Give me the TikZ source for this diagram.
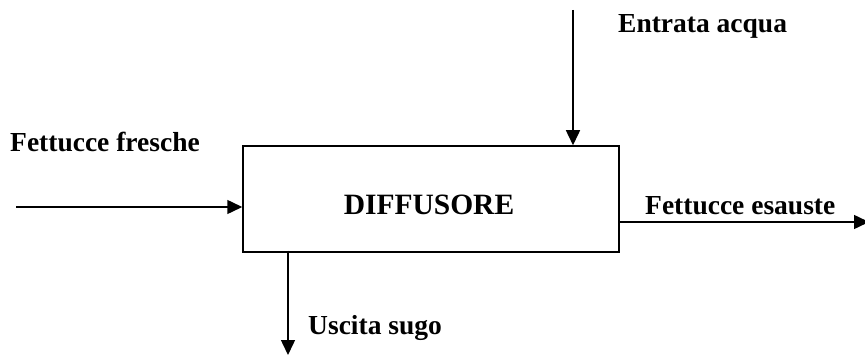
\documentclass[tikz,border=0pt]{standalone}
\usepackage{fontspec}
\setmainfont{Liberation Serif}
\usetikzlibrary{arrows.meta}
\begin{document}
\begin{tikzpicture}[x=1pt,y=-1pt,
  flow/.style={line width=1.5pt,-{Triangle[length=15pt,width=14pt]}},
  lbl/.style={font=\fontsize{27.5}{30}\selectfont\bfseries,inner sep=0pt,anchor=base west},
  unit/.style={draw,line width=1.5pt,minimum width=376pt,minimum height=106pt,inner sep=0pt},
  title/.style={font=\fontsize{29.5}{32}\selectfont\bfseries,inner sep=0pt,anchor=base}]
  \useasboundingbox (0,0) rectangle (865,358);
  % process block and its name
  \node[unit] (box) at (431,199) {};
  \node[title] (boxname) at (429,215) {DIFFUSORE};
  % free ends of the streams
  \coordinate (inL) at (16,207);
  \coordinate (inT) at (573,10);
  \coordinate (outR) at (869,222);
  \coordinate (outB) at (288,355);
  % streams
  \draw[flow] (inL) -- (inL -| box.west);
  \draw[flow] (inT) -- (inT |- box.north);
  \draw[flow] (outR -| box.east) -- (outR);
  \draw[flow] ([yshift=2pt]outB |- box.south) -- (outB);
  % stream labels
  \node[lbl] (tIn) at (10,152) {Fettucce fresche};
  \node[lbl] (tAcq) at (618,33) {Entrata acqua};
  \node[lbl] (tOut) at (645,215) {Fettucce esauste};
  \node[lbl] (tSugo) at (308,334) {Uscita sugo};
\end{tikzpicture}
\end{document}
